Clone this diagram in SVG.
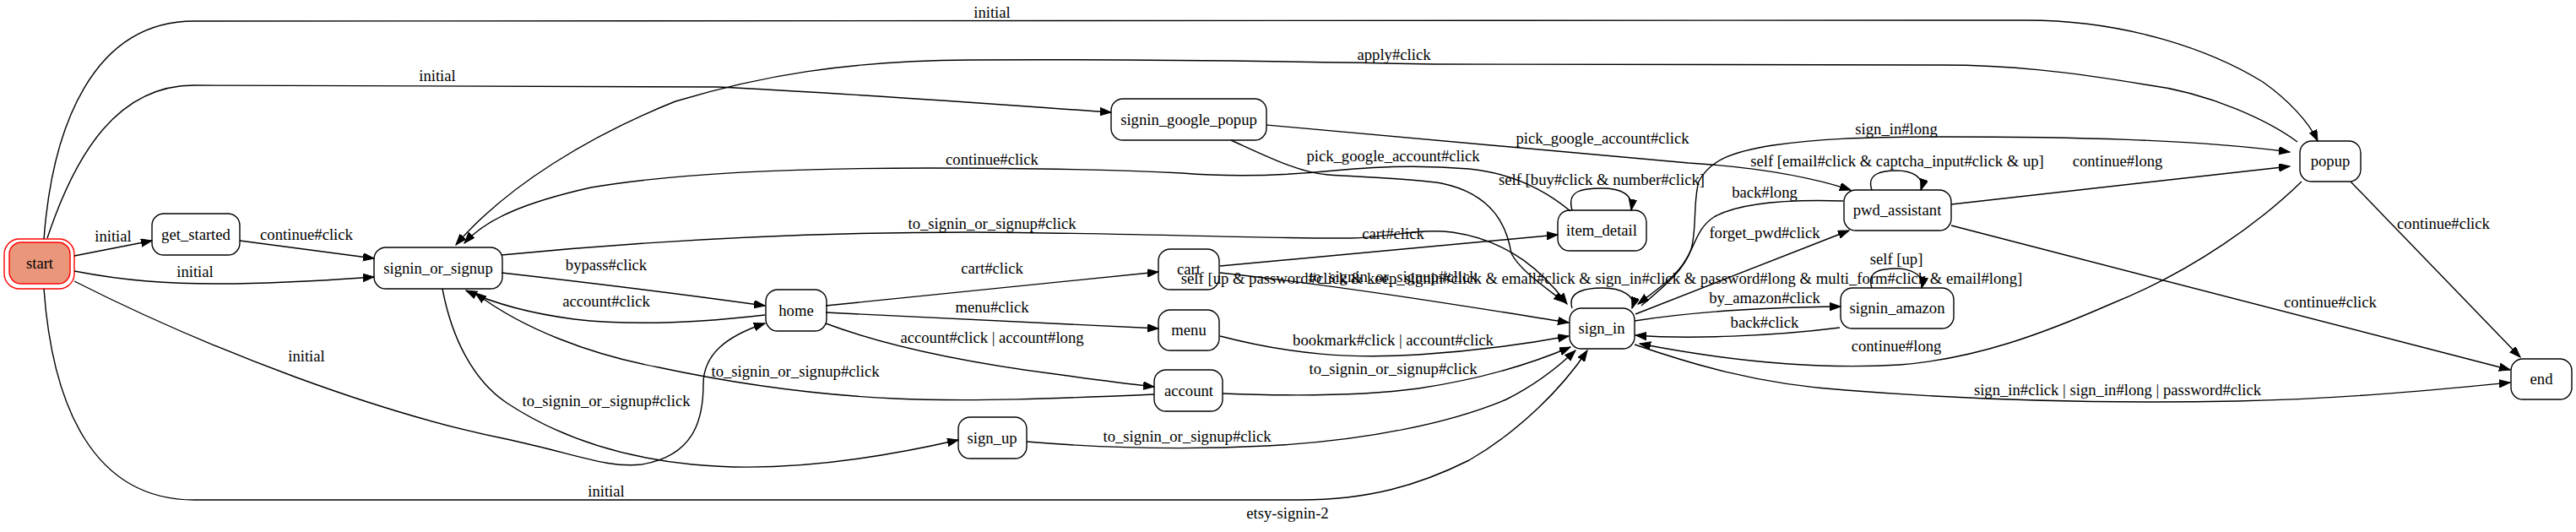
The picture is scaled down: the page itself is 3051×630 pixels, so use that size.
<svg xmlns="http://www.w3.org/2000/svg" width="3051" height="630" viewBox="0 0 3051 630">
<style>
text{font-family:"Liberation Serif","Times New Roman",serif;font-size:18.67px;fill:#000;text-anchor:middle}
.n rect{fill:#fff;stroke:#000;stroke-width:1.4}
.e path{fill:none;stroke:#000;stroke-width:1.4;marker-end:url(#ah)}
</style>
<defs>
<marker id="ah" markerUnits="userSpaceOnUse" markerWidth="14" markerHeight="10" refX="13" refY="4.7" orient="auto">
<path d="M0,0 L13,4.7 L0,9.4 Z" fill="#000" stroke="#000" stroke-width="1"/>
</marker>
</defs>
<rect x="0" y="0" width="3051" height="630" fill="#fff"/>
<g id="start" class="n">
<rect x="5" y="283" width="83" height="59" rx="18" style="fill:none;stroke:#ff0000"/>
<rect x="11" y="287" width="72" height="49" rx="14" style="fill:#e9967a;stroke:#ff0000"/>
<text x="47" y="318">start</text>
</g>
<g id="get_started" class="n"><rect x="180" y="253" width="104" height="49" rx="14"/><text x="232" y="284">get_started</text></g>
<g id="signin_or_signup" class="n"><rect x="443" y="293" width="152" height="49" rx="14"/><text x="519" y="324">signin_or_signup</text></g>
<g id="home" class="n"><rect x="907" y="343" width="72" height="49" rx="14"/><text x="943" y="374">home</text></g>
<g id="sign_up" class="n"><rect x="1135" y="494" width="81" height="49" rx="14"/><text x="1175" y="525">sign_up</text></g>
<g id="cart" class="n"><rect x="1372" y="295" width="72" height="48" rx="14"/><text x="1408" y="325">cart</text></g>
<g id="menu" class="n"><rect x="1372" y="367" width="72" height="48" rx="14"/><text x="1408" y="397">menu</text></g>
<g id="account" class="n"><rect x="1367" y="438" width="81" height="49" rx="14"/><text x="1408" y="469">account</text></g>
<g id="signin_google_popup" class="n"><rect x="1316" y="117" width="184" height="49" rx="14"/><text x="1408" y="148">signin_google_popup</text></g>
<g id="item_detail" class="n"><rect x="1845" y="249" width="105" height="48" rx="14"/><text x="1897" y="279">item_detail</text></g>
<g id="sign_in" class="n"><rect x="1859" y="365" width="77" height="48" rx="14"/><text x="1897" y="395">sign_in</text></g>
<g id="pwd_assistant" class="n"><rect x="2184" y="225" width="127" height="48" rx="14"/><text x="2247" y="255">pwd_assistant</text></g>
<g id="signin_amazon" class="n"><rect x="2180" y="341" width="134" height="48" rx="14"/><text x="2247" y="371">signin_amazon</text></g>
<g id="popup" class="n"><rect x="2724" y="167" width="72" height="48" rx="14"/><text x="2760" y="197">popup</text></g>
<g id="end" class="n"><rect x="2974" y="425" width="72" height="48" rx="14"/><text x="3010" y="455">end</text></g>
<g id="edges" class="e">
<g><path d="M52,283 C62,150 110,25 230,25 L2400,24 C2520,24 2620,60 2680,97 C2710,118 2735,145 2745,167"/><text x="1175" y="21">initial</text></g>
<g><path d="M56,282 C90,180 140,101 230,101 L850,103 C1000,110 1200,125 1316,133"/><text x="518" y="96">initial</text></g>
<g><path d="M88,303 L180,285"/><text x="134" y="286">initial</text></g>
<g><path d="M284,285 L443,306"/><text x="363" y="284">continue#click</text></g>
<g><path d="M88,321 C150,333 200,336 260,336 C330,336 400,331 443,328"/><text x="231" y="328">initial</text></g>
<g><path d="M88,333 C250,415 450,490 600,520 C680,537 720,555 760,550 C820,540 833,500 833,455 C833,420 860,398 906,383"/><text x="363" y="428">initial</text></g>
<g><path d="M52,342 C62,480 110,592 230,592 L1540,592 C1620,592 1680,575 1740,545 C1800,510 1850,460 1880,415"/><text x="718" y="588">initial</text></g>
<g><path d="M594,323 C700,335 820,350 906,362"/><text x="718" y="320">bypass#click</text></g>
<g><path d="M906,373 C820,383 740,385 680,378 C620,370 580,357 552,344"/><text x="718" y="363">account#click</text></g>
<g><path d="M1367,467 C1250,472 1150,476 1060,472 C950,467 850,450 780,435 C700,420 620,390 563,347"/><text x="942" y="446">to_signin_or_signup#click</text></g>
<g><path d="M524,342 C535,400 560,450 600,477 C650,510 720,540 820,550 C920,560 1030,545 1135,521"/><text x="718" y="481">to_signin_or_signup#click</text></g>
<g><path d="M594,302 C800,282 1000,275 1150,275 C1350,276 1500,283 1600,282 C1650,281 1680,270 1720,275 C1790,285 1830,325 1856,360"/><text x="1175" y="271">to_signin_or_signup#click</text></g>
<g><path d="M2721,168 C2690,145 2620,110 2540,100 C2450,85 2380,77 2300,77 L1700,76 C1500,72 1300,70 1150,71 C1000,72 900,90 800,120 C700,160 600,220 540,290"/><text x="1651" y="71">apply#click</text></g>
<g><path d="M1860,250 C1830,225 1790,205 1740,200 C1680,195 1620,198 1580,202 C1520,208 1460,210 1400,205 C1300,200 1200,199 1100,199 C950,199 800,205 700,222 C620,240 575,260 550,288"/><text x="1175" y="195">continue#click</text></g>
<g><path d="M1445,315 L1845,278"/><text x="1650" y="283">cart#click</text></g>
<g><path d="M1445,323 C1600,340 1750,365 1858,382"/><text x="1650" y="334">to_signin_or_signup#click</text></g>
<g><path d="M1445,398 C1530,420 1600,425 1680,420 C1760,415 1820,405 1858,398"/><text x="1650" y="409">bookmark#click | account#click</text></g>
<g><path d="M1448,466 C1550,470 1620,468 1680,460 C1760,448 1820,428 1860,411"/><text x="1650" y="443">to_signin_or_signup#click</text></g>
<g><path d="M1216,523 C1300,530 1400,533 1500,528 C1620,522 1720,500 1784,473 C1820,455 1845,435 1866,415"/><text x="1406" y="523">to_signin_or_signup#click</text></g>
<g><path d="M978,362 L1372,322"/><text x="1175" y="324">cart#click</text></g>
<g><path d="M978,370 L1372,389"/><text x="1175" y="370">menu#click</text></g>
<g><path d="M978,383 C1050,410 1150,430 1250,443 C1300,450 1340,455 1367,458"/><text x="1175" y="406">account#click | account#long</text></g>
<g><path d="M1500,148 C1700,165 1900,185 2000,193 C2080,198 2140,208 2192,225"/><text x="1898" y="170">pick_google_account#click</text></g>
<g><path d="M1458,166 C1500,185 1540,205 1573,207 C1620,210 1680,212 1707,217 C1770,230 1785,270 1790,300 C1800,320 1830,340 1853,358"/><text x="1650" y="191">pick_google_account#click</text></g>
<g><path d="M1862,249 C1855,225 1875,223 1897,223 C1920,223 1935,230 1932,249"/><text x="1897" y="219">self [buy#click &amp; number#click]</text></g>
<g><path d="M1862,365 C1856,345 1878,341 1898,341 C1920,341 1938,350 1933,365"/><text x="1897" y="336">self [up &amp; password#click &amp; keep_signin#click &amp; email#click &amp; sign_in#click &amp; password#long &amp; multi_form#click &amp; email#long]</text></g>
<g><path d="M1937,372 L2190,273"/><text x="2090" y="282">forget_pwd#click</text></g>
<g><path d="M2183,238 C2120,236 2060,240 2030,257 C2010,270 2008,290 1997,307 C1985,328 1960,345 1940,360"/><text x="2090" y="234">back#long</text></g>
<g><path d="M1944,362 C1970,340 1995,320 2003,295 C2010,270 2005,240 2012,215 C2025,190 2050,180 2100,172 C2150,165 2200,162 2300,162 C2450,162 2600,165 2712,180"/><text x="2246" y="159">sign_in#long</text></g>
<g><path d="M2311,242 L2712,197"/><text x="2508" y="197">continue#long</text></g>
<g><path d="M2311,267 L2973,438"/><text x="2760" y="364">continue#click</text></g>
<g><path d="M2784,215 L2985,423"/><text x="2894" y="271">continue#click</text></g>
<g><path d="M2726,215 C2680,260 2600,320 2500,360 C2420,395 2340,425 2250,432 C2150,438 2050,428 1942,407"/><text x="2246" y="416">continue#long</text></g>
<g><path d="M1936,408 C2000,430 2080,455 2186,462 C2350,475 2500,478 2650,475 C2780,472 2880,462 2973,453"/><text x="2508" y="468">sign_in#click | sign_in#long | password#click</text></g>
<g><path d="M1936,380 C2000,370 2080,364 2180,363"/><text x="2090" y="359">by_amazon#click</text></g>
<g><path d="M2179,388 C2100,398 2000,402 1937,397"/><text x="2090" y="388">back#click</text></g>
<g><path d="M2217,225 C2210,205 2230,202 2246,202 C2265,202 2280,210 2275,225"/><text x="2247" y="197">self [email#click &amp; captcha_input#click &amp; up]</text></g>
<g><path d="M2217,341 C2210,320 2230,318 2246,318 C2262,318 2280,325 2276,341"/><text x="2246" y="313">self [up]</text></g>
</g>
<text x="1525" y="614">etsy-signin-2</text>
</svg>
